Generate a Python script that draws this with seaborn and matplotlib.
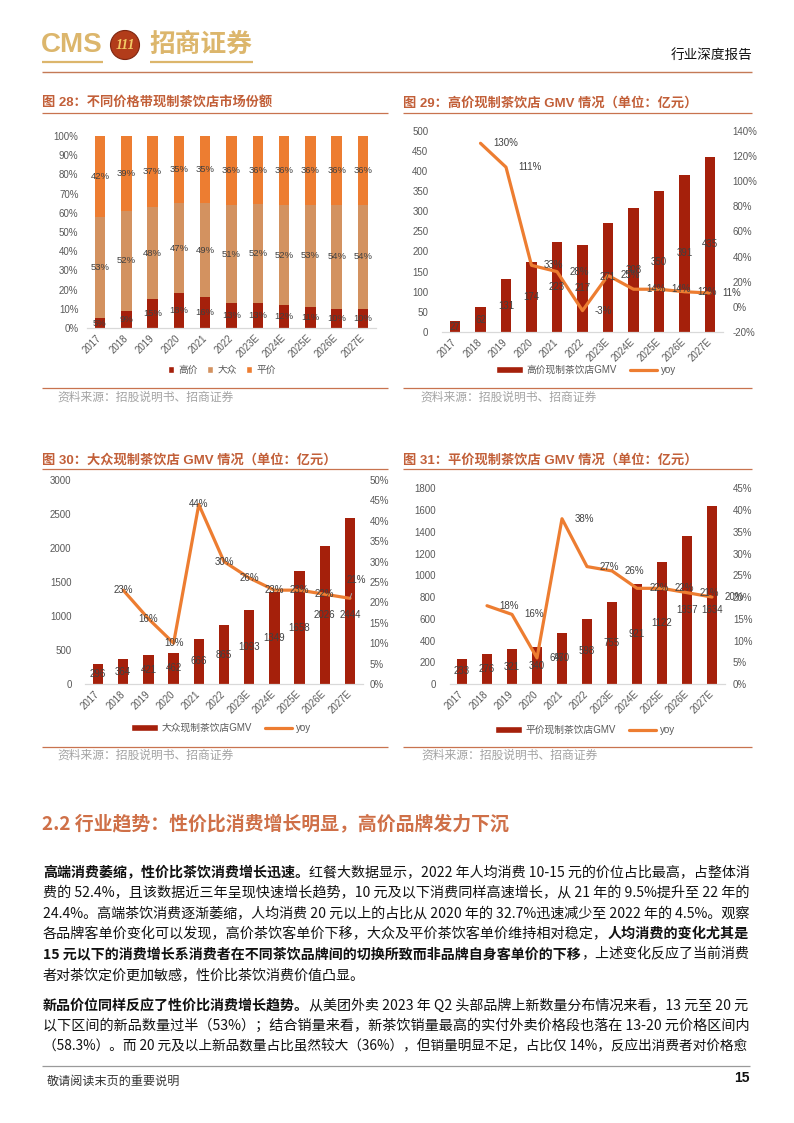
import numpy as np
import pandas as pd
import matplotlib
matplotlib.use('Agg')
import matplotlib.pyplot as plt
import seaborn as sns
from matplotlib.patches import Patch, Circle
from matplotlib.lines import Line2D
from matplotlib.font_manager import FontProperties
from matplotlib.ticker import FuncFormatter

# ---------------- data ----------------
years = ['2017', '2018', '2019', '2020', '2021', '2022',
         '2023E', '2024E', '2025E', '2026E', '2027E']

share_legend = ['高价', '大众', '平价']
share_high = [5, 9, 15, 18, 16, 13, 13, 12, 11, 10, 10]
share_mass = [53, 52, 48, 47, 49, 51, 52, 52, 53, 54, 54]
share_value = [42, 39, 37, 35, 35, 36, 36, 36, 36, 36, 36]

gmv_high = [27, 62, 131, 174, 223, 217, 271, 308, 350, 391, 435]
yoy_high = [130, 111, 33, 28, -3, 25, 14, 14, 12, 11]
gmv_mass = [296, 364, 421, 462, 666, 865, 1093, 1349, 1658, 2026, 2444]
yoy_mass = [23, 16, 10, 44, 30, 26, 23, 23, 22, 21]
gmv_value = [233, 276, 321, 340, 470, 598, 755, 921, 1122, 1357, 1634]
yoy_value = [18, 16, 6, 38, 27, 26, 22, 22, 21, 20]

titles = ['图 28：不同价格带现制茶饮店市场份额',
          '图 29：高价现制茶饮店 GMV 情况（单位：亿元）',
          '图 30：大众现制茶饮店 GMV 情况（单位：亿元）',
          '图 31：平价现制茶饮店 GMV 情况（单位：亿元）']
legend_gmv = ['高价现制茶饮店GMV', '大众现制茶饮店GMV', '平价现制茶饮店GMV']
source_text = '资料来源：招股说明书、招商证券'

section_title = '2.2 行业趋势：性价比消费增长明显，高价品牌发力下沉'
para1 = [
    [("高端消费萎缩，性价比茶饮消费增长迅速。", True),
     ("红餐大数据显示，2022 年人均消费 10-15 元的价位占比最高，占整体消", False)],
    [("费的 52.4%，且该数据近三年呈现快速增长趋势，10 元及以下消费同样高速增长，从 21 年的 9.5%提升至 22 年的", False)],
    [("24.4%。高端茶饮消费逐渐萎缩，人均消费 20 元以上的占比从 2020 年的 32.7%迅速减少至 2022 年的 4.5%。观察", False)],
    [("各品牌客单价变化可以发现，高价茶饮客单价下移，大众及平价茶饮客单价维持相对稳定，", False),
     ("人均消费的变化尤其是", True)],
    [("15 元以下的消费增长系消费者在不同茶饮品牌间的切换所致而非品牌自身客单价的下移", True),
     ("，上述变化反应了当前消费", False)],
    [("者对茶饮定价更加敏感，性价比茶饮消费价值凸显。", False)],
]
para2 = [
    [("新品价位同样反应了性价比消费增长趋势。", True),
     ("从美团外卖 2023 年 Q2 头部品牌上新数量分布情况来看，13 元至 20 元", False)],
    [("以下区间的新品数量过半（53%）；结合销量来看，新茶饮销量最高的实付外卖价格段也落在 13-20 元价格区间内", False)],
    [("（58.3%）。而 20 元及以上新品数量占比虽然较大（36%），但销量明显不足，占比仅 14%，反应出消费者对价格愈", False)],
]

# ---------------- style ----------------
W, H = 794, 1123
sns.set_theme(style='white')
CJK = 'Noto Sans CJK SC'
plt.rcParams['font.family'] = ['Liberation Sans', CJK]
plt.rcParams['axes.unicode_minus'] = False

C_HIGH = '#A5200B'
C_MASS = '#D39260'
C_VAL = '#ED7D31'
BAR = '#A5200B'
LINE = '#ED7D31'
TICK_C = '#595959'
LAB_C = '#404040'
TITLE_C = '#C25F38'
RULE_C = '#C8734F'
GOLD = '#DCB66C'

fig = plt.figure(figsize=(W / 100, H / 100), dpi=100)
fig.patch.set_facecolor('white')
ov = fig.add_axes([0, 0, 1, 1])
ov.set_xlim(0, W)
ov.set_ylim(H, 0)
ov.axis('off')
renderer = fig.canvas.get_renderer()


def rect(x0, y0, x1, y1):
    return [x0 / W, 1 - y1 / H, (x1 - x0) / W, (y1 - y0) / H]


def hline(x0, x1, y, color, lw):
    ov.plot([x0, x1], [y, y], color=color, lw=lw, solid_capstyle='butt')


def seg_width(s, size, bold):
    fp = FontProperties(family=CJK, size=size, weight='bold' if bold else 'normal')
    w, _, _ = renderer.get_text_width_height_descent(s, fp, ismath=False)
    return w


def fit_size(segs, width, base):
    tot = sum(seg_width(t, base, b) for t, b in segs)
    return base * width / tot


def draw_line(segs, y, x0, size, color='#111111'):
    x = x0
    for t, b in segs:
        ov.text(x, y, t, fontsize=size, fontweight='bold' if b else 'normal',
                color=color, ha='left', va='center', family=CJK)
        x += seg_width(t, size, b)


def style_axes(ax):
    for s in ['top', 'left', 'right']:
        ax.spines[s].set_visible(False)
    ax.spines['bottom'].set_color('#D9D9D9')
    ax.spines['bottom'].set_linewidth(0.9)
    ax.set_facecolor('none')
    ax.grid(False)


def pct(v, _):
    return f'{v * 100:.0f}%'


# ---------------- header ----------------
ov.text(41, 45, 'CMS', fontsize=20, fontweight='bold', color=GOLD,
        ha='left', va='center', family='Liberation Sans')
ov.add_patch(Circle((125, 45), 14.5, facecolor='#B23C1A', edgecolor='#7E2610', lw=0.8))
ov.text(125, 45.5, '111', fontsize=10, fontweight='bold', style='italic',
        color='#F3CB66', ha='center', va='center', family='Liberation Serif')
ov.text(149, 44.5, '招商证券', fontsize=18.5, fontweight='bold', color=GOLD,
        ha='left', va='center', family=CJK)
hline(42, 103, 62, GOLD, 1.6)
hline(150, 253, 62, GOLD, 1.6)
hline(42, 752, 72, '#C47A56', 1.0)
ov.text(752, 55, '行业深度报告', fontsize=9.8, color='#111111', ha='right',
        va='center', family=CJK)

# ---------------- chart frames ----------------
frames = [(42, 388, 103, 113, 388, 57, 397),
          (403, 752, 103, 113, 388, 420, 397),
          (42, 388, 460, 469, 747, 57, 755.5),
          (403, 752, 460, 469, 747, 421, 755.5)]
for (x0, x1, ty, uy, by, sx, sy), t in zip(frames, titles):
    ov.text(x0, ty, t, fontsize=9.5, fontweight='bold', color=TITLE_C,
            ha='left', va='center')
    hline(x0, x1, uy, RULE_C, 0.9)
    hline(x0, x1, by, RULE_C, 0.9)
    ov.text(sx, sy, source_text, fontsize=8.5, color='#A3A3A3', ha='left',
            va='center', family=CJK)

# ---------------- chart 28 : stacked share ----------------
ax1 = fig.add_axes(rect(86.85, 136, 376.15, 328))
hi = np.array(share_high, float)
ms = np.array(share_mass, float)
vl = np.array(share_value, float)
tot = hi + ms + vl
hi_n, ms_n, vl_n = hi / tot, ms / tot, vl / tot
for h, c in [(hi_n + ms_n + vl_n, C_VAL), (hi_n + ms_n, C_MASS), (hi_n, C_HIGH)]:
    sns.barplot(x=years, y=h, color=c, saturation=1, width=0.4, linewidth=0, ax=ax1)
for i in range(len(years)):
    ax1.text(i, hi_n[i] / 2, f'{share_high[i]}%', ha='center', va='center', fontsize=6.8, color=LAB_C)
    ax1.text(i, hi_n[i] + ms_n[i] / 2, f'{share_mass[i]}%', ha='center', va='center', fontsize=6.8, color=LAB_C)
    ax1.text(i, hi_n[i] + ms_n[i] + vl_n[i] / 2, f'{share_value[i]}%', ha='center', va='center', fontsize=6.8, color=LAB_C)
ax1.set_xlim(-0.5, len(years) - 0.5)
ax1.set_ylim(0, 1)
ax1.set_yticks(np.round(np.arange(0, 1.01, 0.1), 2))
ax1.yaxis.set_major_formatter(FuncFormatter(pct))
ax1.set_xticks(range(len(years)))
ax1.set_xticklabels(years, rotation=45, ha='right', va='center', rotation_mode='anchor')
ax1.tick_params(axis='y', length=0, labelsize=7, labelcolor=TICK_C, pad=6)
ax1.tick_params(axis='x', length=0, labelsize=7, labelcolor=TICK_C, pad=6)
ax1.set_xlabel('')
ax1.set_ylabel('')
style_axes(ax1)
fig.legend([Patch(facecolor=c) for c in [C_HIGH, C_MASS, C_VAL]], share_legend,
           loc='center', bbox_to_anchor=(222 / W, 1 - 370 / H), ncol=3, frameon=False,
           fontsize=7, handlelength=0.6, handleheight=0.6, handletextpad=0.4,
           columnspacing=1.0, labelcolor=TICK_C)


# ---------------- GMV charts ----------------
def gmv_chart(px, vals, yoy, lticks, rticks, leg_label, leg_center,
              yoy_mode='right', last_like_prev=False, lpad=10, rpad=7, lead_last=False):
    ax = fig.add_axes(rect(*px))
    df = pd.DataFrame({'year': years, 'gmv': vals})
    sns.barplot(data=df, x='year', y='gmv', color=BAR, saturation=1, width=0.42,
                linewidth=0, ax=ax)
    ax.set_ylim(lticks[0], lticks[-1])
    ax.set_yticks(lticks)
    ax.set_xticks(range(len(years)))
    ax.set_xticklabels(years, rotation=45, ha='right', va='center', rotation_mode='anchor')
    ax.tick_params(axis='y', length=0, labelsize=7, labelcolor=TICK_C, pad=lpad)
    ax.tick_params(axis='x', length=0, labelsize=7, labelcolor=TICK_C, pad=6)
    ax.set_xlabel('')
    ax.set_ylabel('')
    style_axes(ax)

    ax2 = ax.twinx()
    xs = [years.index(y) for y in years[1:]]
    yv = np.array(yoy) / 100
    dfl = pd.DataFrame({'x': xs, 'yoy': yv})
    sns.lineplot(data=dfl, x='x', y='yoy', color=LINE, linewidth=2.3, ax=ax2)
    ax2.set_ylim(rticks[0], rticks[-1])
    ax2.set_yticks(rticks)
    ax2.yaxis.set_major_formatter(FuncFormatter(pct))
    ax2.tick_params(axis='y', length=0, labelsize=7, labelcolor=TICK_C, pad=rpad)
    ax2.set_xlabel('')
    ax2.set_ylabel('')
    for s in ax2.spines.values():
        s.set_visible(False)
    ax2.grid(False)

    # bar value labels (drawn on top of the line)
    centers = [v / 2 for v in vals]
    if last_like_prev:
        centers[-1] = centers[-2]
    for i, v in enumerate(vals):
        ax2.text(i, centers[i], str(v), transform=ax.transData, ha='center',
                 va='center', fontsize=7, color=LAB_C)
    # yoy labels
    n = len(xs)
    for k, (x, y, v) in enumerate(zip(xs, yv, yoy)):
        if lead_last and k == n - 1:
            ax2.annotate(f'{v}%', xy=(x, y), xytext=(x + 0.25, y + 0.045),
                         ha='center', va='center', fontsize=7, color=LAB_C,
                         arrowprops=dict(arrowstyle='-', color='#A6A6A6', lw=0.7,
                                         shrinkA=4, shrinkB=0))
        elif yoy_mode == 'right':
            ax2.annotate(f'{v}%', xy=(x, y), xytext=(9, 0), textcoords='offset points',
                         ha='left', va='center', fontsize=7, color=LAB_C)
        else:
            ax2.text(x, y, f'{v}%', ha='center', va='center', fontsize=7, color=LAB_C)
    ax.set_xlim(-0.5, len(years) - 0.5)

    handles = [Patch(facecolor=BAR), Line2D([0], [0], color=LINE, lw=2.3)]
    fig.legend(handles, [leg_label, 'yoy'], loc='center',
               bbox_to_anchor=(leg_center[0] / W, 1 - leg_center[1] / H), ncol=2,
               frameon=False, fontsize=7, handlelength=2.7, handleheight=0.6,
               handletextpad=0.4, columnspacing=1.4, labelcolor=TICK_C)
    return ax, ax2


gmv_chart((442.25, 130.7, 722.75, 332), gmv_high, yoy_high,
          list(range(0, 501, 50)), list(np.round(np.arange(-20, 141, 20) / 100, 2)),
          legend_gmv[0], (586, 370), yoy_mode='right', lpad=10, rpad=7)
gmv_chart((85.4, 480, 362.6, 684), gmv_mass, yoy_mass,
          list(range(0, 3001, 500)), list(np.round(np.arange(0, 51, 5) / 100, 2)),
          legend_gmv[1], (221, 728), yoy_mode='center', last_like_prev=True,
          lpad=10, rpad=5, lead_last=True)
gmv_chart((449.5, 488.3, 724.5, 684), gmv_value, yoy_value,
          list(range(0, 1801, 200)), list(np.round(np.arange(0, 46, 5) / 100, 2)),
          legend_gmv[2], (585, 730), yoy_mode='right', last_like_prev=True,
          lpad=10, rpad=6)

# ---------------- body text ----------------
sec_size = fit_size([(section_title, True)], 508 - 42, 13)
draw_line([(section_title, True)], 825, 42, sec_size, color='#CF7048')

X0, X1 = 43, 750
p1_y = [873, 893.5, 913.8, 934, 954.5, 975]
p2_y = [1005.5, 1026, 1046.5]
sizes = []
for segs in para1[:-1] + para2:
    sizes.append(fit_size(segs, X1 - X0, 9.8))
k = 0
for i, segs in enumerate(para1):
    if i < len(para1) - 1:
        draw_line(segs, p1_y[i], X0, sizes[k])
        k += 1
    else:
        draw_line(segs, p1_y[i], X0, float(np.median(sizes)))
for i, segs in enumerate(para2):
    draw_line(segs, p2_y[i], X0, sizes[k])
    k += 1

# ---------------- footer ----------------
hline(42, 750, 1066, '#9A9A9A', 0.9)
ov.text(47, 1081, '敬请阅读末页的重要说明', fontsize=8.7, color='#333333',
        ha='left', va='center', family=CJK)
ov.text(750, 1078, '15', fontsize=10, fontweight='bold', color='#111111',
        ha='right', va='center', family='Liberation Sans')

fig.savefig('out.png', dpi=100)
